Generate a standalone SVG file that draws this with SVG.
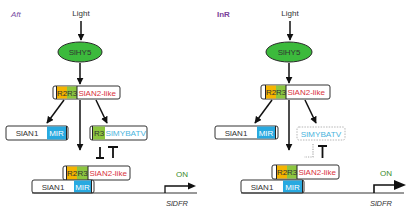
<svg xmlns="http://www.w3.org/2000/svg" width="412" height="214" viewBox="0 0 412 214">
<defs>
<marker id="ah" viewBox="0 0 10 10" refX="9" refY="5" markerWidth="7" markerHeight="7" markerUnits="userSpaceOnUse" orient="auto"><path d="M0,0 L10,5 L0,10 Z" fill="#111"/></marker>
</defs>
<style>
text{font-family:"Liberation Sans",Arial,sans-serif;font-size:8px;}
.box{fill:#fff;stroke:#333;stroke-width:1;}
.or{fill:#f5b400;}
.gr{fill:#8cc63f;}
.bl{fill:#28a9e0;}
.strip{stroke:#222;stroke-width:1;}
.red{fill:#d8323c;}
.cy{fill:#4bb4dc;}
.wt{fill:#fff;}
.dk{fill:#333;}
.c{text-anchor:middle;}
.ln{stroke:#111;stroke-width:1.5;fill:none;}
.tb{stroke:#111;stroke-width:1.8;fill:none;}
.hy{fill:#3cba3c;stroke:#2a2a2a;stroke-width:1;}
.base{stroke:#333;stroke-width:1;}
.on{fill:#3a8a2a;font-size:8px;}
.it{font-style:italic;fill:#333;font-size:7.5px;}
</style>
<g id="labels">
<text x="11" y="17" style="fill:#7a4ea3;font-style:italic">Aft</text>
<text x="217" y="17" style="fill:#7a3f9a;font-weight:bold">InR</text>
</g>
<g id="connectors">
<line class="ln" x1="81" y1="21" x2="81" y2="40" marker-end="url(#ah)"/>
<line class="ln" x1="80" y1="63" x2="80" y2="84" marker-end="url(#ah)"/>
<line class="ln" x1="64" y1="100" x2="47" y2="123" marker-end="url(#ah)"/>
<line class="ln" x1="96" y1="100" x2="107" y2="123" marker-end="url(#ah)"/>
<line class="ln" x1="80" y1="100" x2="80" y2="150" marker-end="url(#ah)"/>
<path class="tb" d="M100,147 V158 M96,158 H104"/>
<path class="tb" d="M108,147 H118 M113,147 V158"/>
<line class="ln" x1="290" y1="21" x2="290" y2="40" marker-end="url(#ah)"/>
<line class="ln" x1="289" y1="63" x2="289" y2="83" marker-end="url(#ah)"/>
<line class="ln" x1="272" y1="100" x2="255" y2="123" marker-end="url(#ah)"/>
<line class="ln" x1="305" y1="100" x2="316" y2="123" marker-end="url(#ah)"/>
<line class="ln" x1="289" y1="100" x2="289" y2="150" marker-end="url(#ah)"/>
<path d="M313,144 V157 H304" stroke="#aaa" stroke-width="1.2" stroke-dasharray="1.2,1.2" fill="none"/>
<path class="tb" d="M318,146 H327 M322.5,146 V158"/>
</g>
<g id="light-left"><text class="c dk" x="81" y="16">Light</text></g>
<g id="hy5-left"><ellipse class="hy" cx="80" cy="52" rx="22" ry="10"/><text class="c dk" x="80" y="55">SlHY5</text></g>
<g id="an2-left">
<rect class="box" x="53" y="86" width="67" height="13" rx="2"/>
<rect class="or" x="57" y="86.5" width="10" height="12"/><rect class="gr" x="67" y="86.5" width="10" height="12"/>
<line class="strip" x1="56.5" y1="86" x2="56.5" y2="99"/><line class="strip" x1="77" y1="86" x2="77" y2="99"/>
<text class="c dk" x="62" y="95.5">R2</text><text class="c dk" x="72" y="95.5">R3</text>
<text class="red" x="78.5" y="95.5">SlAN2-like</text>
</g>
<g id="an1-left">
<rect class="box" x="6" y="126" width="62" height="14" rx="2"/>
<rect class="bl" x="47" y="126.5" width="19" height="13"/>
<line class="strip" x1="66.5" y1="126" x2="66.5" y2="140"/>
<text class="c dk" x="27" y="136">SlAN1</text><text class="c wt" x="56.5" y="136">MIR</text>
</g>
<g id="mybatv-left">
<rect class="box" x="90" y="126" width="57" height="14" rx="2"/>
<rect class="gr" x="93" y="126.5" width="12" height="13"/>
<line class="strip" x1="92.5" y1="126" x2="92.5" y2="140"/>
<text class="c dk" x="99" y="136">R3</text>
<text class="cy" x="105.5" y="136" textLength="40.5" lengthAdjust="spacingAndGlyphs">SlMYBATV</text>
</g>
<g id="complex-left">
<rect class="box" x="63" y="166" width="67" height="14" rx="2"/>
<rect class="or" x="67" y="166.5" width="10" height="13"/><rect class="gr" x="77" y="166.5" width="11" height="13"/>
<line class="strip" x1="66.5" y1="166" x2="66.5" y2="180"/><line class="strip" x1="88" y1="166" x2="88" y2="180"/>
<text class="c dk" x="72" y="176">R2</text><text class="c dk" x="82.5" y="176">R3</text>
<text class="red" x="89.5" y="176">SlAN2-like</text>
<rect class="box" x="32" y="180" width="62" height="13" rx="2"/>
<rect class="bl" x="74" y="180.5" width="17" height="12"/>
<line class="strip" x1="91.5" y1="180" x2="91.5" y2="193"/>
<text class="c dk" x="53" y="189.5">SlAN1</text><text class="c wt" x="82.5" y="189.5">MIR</text>
</g>
<g id="dfr-left">
<line class="base" x1="32" y1="193" x2="197" y2="193"/>
<path d="M165,193 V186 H189" stroke="#111" stroke-width="1.3" fill="none"/>
<path d="M188,182.5 L196,186 L188,189.5 Z" fill="#111"/>
<text class="c on" x="182" y="177">ON</text>
<text class="c it" x="177" y="206">SlDFR</text>
</g>
<g id="light-right"><text class="c dk" x="290" y="16">Light</text></g>
<g id="hy5-right"><ellipse class="hy" cx="289" cy="52" rx="23" ry="10"/><text class="c dk" x="289" y="55">SlHY5</text></g>
<g id="an2-right">
<rect class="box" x="261" y="85" width="69" height="14" rx="2"/>
<rect class="or" x="266" y="85.5" width="10" height="13"/><rect class="gr" x="276" y="85.5" width="10" height="13"/>
<line class="strip" x1="265.5" y1="85" x2="265.5" y2="99"/><line class="strip" x1="286" y1="85" x2="286" y2="99"/>
<text class="c dk" x="271" y="95">R2</text><text class="c dk" x="281" y="95">R3</text>
<text class="red" x="287.5" y="95">SlAN2-like</text>
</g>
<g id="an1-right">
<rect class="box" x="215" y="126" width="63" height="13" rx="2"/>
<rect class="bl" x="257" y="126.5" width="18" height="12"/>
<line class="strip" x1="275.5" y1="126" x2="275.5" y2="139"/>
<text class="c dk" x="236" y="135.5">SlAN1</text><text class="c wt" x="266" y="135.5">MIR</text>
</g>
<g id="mybatv-right">
<rect x="297" y="127" width="48" height="13" rx="2" fill="#fff" stroke="#b5b5b5" stroke-width="1" stroke-dasharray="1.5,1.2"/>
<text class="cy" x="321" y="136.5" text-anchor="middle" textLength="40.5" lengthAdjust="spacingAndGlyphs">SlMYBATV</text>
</g>
<g id="complex-right">
<rect class="box" x="272" y="165" width="67" height="14" rx="2"/>
<rect class="or" x="277" y="165.5" width="10" height="13"/><rect class="gr" x="287" y="165.5" width="10" height="13"/>
<line class="strip" x1="276.5" y1="165" x2="276.5" y2="179"/><line class="strip" x1="297" y1="165" x2="297" y2="179"/>
<text class="c dk" x="282" y="175">R2</text><text class="c dk" x="292" y="175">R3</text>
<text class="red" x="298.5" y="175">SlAN2-like</text>
<rect class="box" x="241" y="180" width="63" height="13" rx="2"/>
<rect class="bl" x="283" y="180.5" width="19" height="12"/>
<line class="strip" x1="302.5" y1="180" x2="302.5" y2="193"/>
<text class="c dk" x="262" y="189.5">SlAN1</text><text class="c wt" x="292.5" y="189.5">MIR</text>
</g>
<g id="dfr-right">
<line class="base" x1="241" y1="193" x2="404" y2="193"/>
<path d="M374,193 V185 H395" stroke="#111" stroke-width="1.6" fill="none"/>
<path d="M394,180 L406,185 L394,190 Z" fill="#111"/>
<text class="c on" x="386" y="176">ON</text>
<text class="c it" x="381" y="206">SlDFR</text>
</g>
</svg>
